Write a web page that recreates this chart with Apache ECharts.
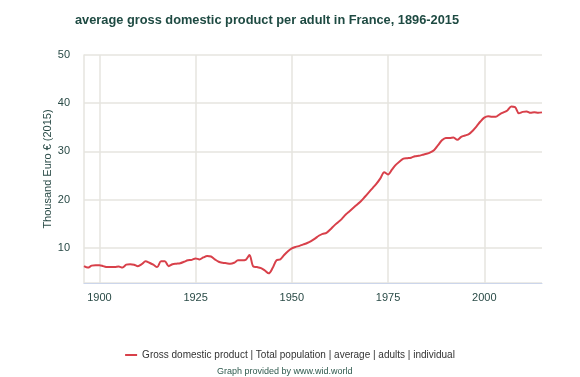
<!DOCTYPE html>
<html>
<head>
<meta charset="utf-8">
<script src="https://cdn.jsdelivr.net/npm/echarts@6/dist/echarts.min.js"></script>
<style>
  html, body { margin: 0; padding: 0; background: #fff; }
  #main { width: 580px; height: 377px; }
</style>
</head>
<body>
<div id="main"></div>
<script>
// years 1896 - 2015
var years = [];
for (var y = 1896; y <= 2015; y++) years.push(String(y));

// thousand euro (2015)
var gdpValues = [
  6.2, 5.9, 6.3, 6.4, 6.4, 6.2, 6.0, 6.0, 6.0, 6.1,   // 1896-1905
  5.9, 6.5, 6.6, 6.5, 6.2, 6.6, 7.2, 6.9, 6.5, 6.0,   // 1906-1915
  7.2, 7.2, 6.2, 6.6, 6.7, 6.8, 7.1, 7.4, 7.5, 7.8,   // 1916-1925
  7.6, 8.0, 8.3, 8.2, 7.6, 7.1, 6.9, 6.8, 6.7, 6.9,   // 1926-1935
  7.4, 7.4, 7.5, 8.5, 6.1, 6.0, 5.8, 5.3, 4.7, 5.8,   // 1936-1945
  7.4, 7.6, 8.5, 9.3, 9.9, 10.2, 10.4, 10.7, 11.0, 11.4, // 1946-1955
  11.9, 12.5, 12.9, 13.1, 13.8, 14.6, 15.3, 16.0, 16.9, 17.6, // 1956-1965
  18.3, 19.0, 19.7, 20.6, 21.5, 22.4, 23.3, 24.4, 25.7, 25.2, // 1966-1975
  26.2, 27.2, 27.9, 28.5, 28.6, 28.7, 29.0, 29.1, 29.3, 29.5, // 1976-1985
  29.8, 30.3, 31.3, 32.3, 32.8, 32.8, 32.9, 32.4, 33.0, 33.3, // 1986-1995
  33.6, 34.3, 35.2, 36.2, 37.0, 37.3, 37.2, 37.2, 37.7, 38.1, // 1996-2005
  38.5, 39.3, 39.2, 37.9, 38.2, 38.3, 38.0, 38.1, 38.0, 38.1  // 2006-2015
];
var seriesName = 'Gross domestic product | Total population | average | adults | individual';

var chart = echarts.init(document.getElementById('main'));
var option = {
  animation: false,
  title: [{
    text: 'average gross domestic product per adult in France, 1896-2015',
    left: 70, top: 9,
    textStyle: { fontFamily: 'Liberation Sans', fontSize: 12.8, fontWeight: 'bold', color: '#1e4a42' }
  }, {
    text: 'Graph provided by www.wid.world',
    left: 212, top: 362,
    textStyle: { fontFamily: 'Liberation Sans', fontSize: 9, fontWeight: 'normal', color: '#2f5a4e' }
  }],
  legend: {
    data: [seriesName],
    left: 'center', top: 345,
    icon: 'rect', itemWidth: 12, itemHeight: 2,
    textStyle: { fontFamily: 'Liberation Sans', fontSize: 10, color: '#333' }
  },
  grid: { left: 84, right: 38, top: 55, bottom: 94, containLabel: false },
  xAxis: {
    type: 'category',
    data: years,
    boundaryGap: false,
    axisLine: { lineStyle: { color: '#ccd6eb', width: 1 } },
    axisTick: { show: false },
    axisLabel: {
      interval: function (i, v) { return Number(v) % 25 === 0; },
      fontFamily: 'Liberation Sans', fontSize: 11, color: '#2a4b47', margin: 9
    },
    splitLine: {
      show: true,
      interval: function (i, v) { return Number(v) % 25 === 0; },
      lineStyle: { color: '#e6e5df', width: 1.5 }
    }
  },
  yAxis: {
    type: 'value',
    min: 2.7, max: 50,
    name: 'Thousand Euro € (2015)',
    nameLocation: 'middle', nameGap: 31,
    nameMoveOverlap: false,
    nameTextStyle: { fontFamily: 'Liberation Sans', fontSize: 11, color: '#2a4b47' },
    axisLine: { show: true, lineStyle: { color: '#e6e5df', width: 1.5 } },
    axisTick: { show: false },
    axisLabel: {
      fontFamily: 'Liberation Sans', fontSize: 11, color: '#2a4b47', margin: 14,
      formatter: function (v) { return (Math.abs(v % 10) < 1e-6) ? String(v) : ''; }
    },
    splitLine: { lineStyle: { color: '#e6e5df', width: 1.5 } }
  },
  series: [{
    name: seriesName,
    type: 'line',
    data: gdpValues,
    smooth: 0.3,
    showSymbol: false,
    itemStyle: { color: '#d8404a' },
    lineStyle: { color: '#d8404a', width: 2 }
  }]
};
chart.setOption(option);
</script>
</body>
</html>
